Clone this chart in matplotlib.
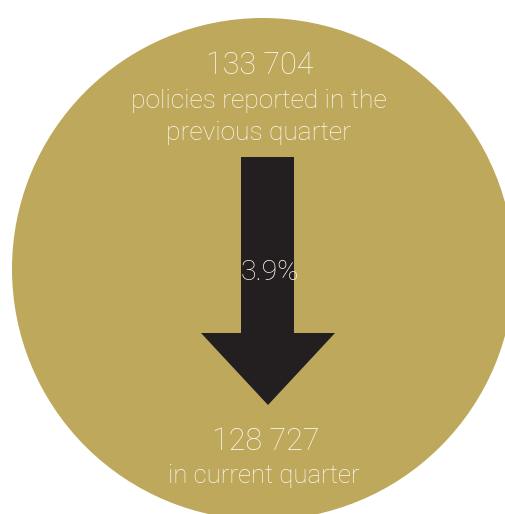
import matplotlib
matplotlib.use("Agg")
import matplotlib.pyplot as plt
from matplotlib.patches import Circle, Polygon

# Figures shown in the infographic
previous_count = "133 704"
previous_label = ["policies reported in the", "previous quarter"]
current_count = "128 727"
current_label = "in current quarter"
change_label = "3.9%"

GOLD = "#BEA85C"
DARK = "#231F20"
TEXT = "#FBF8EE"

W, H = 505, 514
fig = plt.figure(figsize=(W / 100, H / 100), dpi=100)
ax = fig.add_axes([0, 0, 1, 1])
ax.set_xlim(0, W)
ax.set_ylim(H, 0)
ax.set_aspect("equal")
ax.axis("off")

# Background disc
ax.add_patch(Circle((263, 269), 251, facecolor=GOLD, edgecolor="none"))

# Downward arrow
arrow = [(241, 157), (294, 157), (294, 333), (335, 333),
         (268, 405), (201, 333), (241, 333)]
ax.add_patch(Polygon(arrow, closed=True, facecolor=DARK, edgecolor="none"))

font = dict(family=["Roboto", "DejaVu Sans"], weight="light", color=TEXT,
            ha="center", va="center")

ax.text(260, 66, previous_count, fontsize=22, **font)
ax.text(259, 101, previous_label[0], fontsize=19, **font)
ax.text(259, 133, previous_label[1], fontsize=19, **font)
ax.text(270, 272, change_label, fontsize=20.5, **font)
ax.text(266, 441, current_count, fontsize=22, **font)
ax.text(264, 476, current_label, fontsize=18.5, **font)

fig.savefig("out.png", dpi=100, facecolor="white")
